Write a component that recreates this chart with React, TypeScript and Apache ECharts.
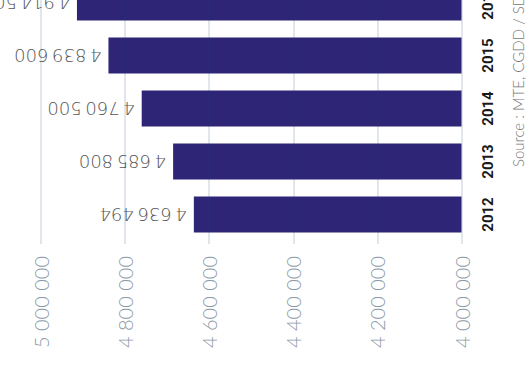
import React, { useEffect, useRef } from "react";
import * as echarts from "echarts";

const years = ["2012", "2013", "2014", "2015", "2016"];
const values = [4636494, 4685800, 4760500, 4839600, 4914500];
const axisMin = 4000000;
const axisMax = 5000000;
const axisStep = 200000;
const sourceText = "Source : MTE, CGDD / SDES";

const fmt = (v: number, sep: string) =>
  String(Math.round(v)).replace(/\B(?=(\d{3})+(?!\d))/g, sep);

export default function App() {
  const ref = useRef<HTMLDivElement>(null);
  useEffect(() => {
    document.body.style.margin = "0";
    const chart = echarts.init(ref.current!, undefined, { renderer: "svg" });
    chart.setOption({
      animation: false,
      backgroundColor: "#ffffff",
      grid: { left: 41, right: 64.5, top: 0, bottom: 129, containLabel: false },
      xAxis: {
        type: "value",
        inverse: true,
        min: axisMin,
        max: axisMax,
        interval: axisStep,
        position: "bottom",
        z: 3,
        axisLine: { show: false },
        axisTick: { show: true, length: 3, lineStyle: { color: "rgba(20,72,116,0.18)", width: 1.5 } },
        axisLabel: {
          rotate: 90,
          margin: 15,
          fontSize: 20,
          fontFamily: "Lato, 'Open Sans', sans-serif",
          fontWeight: 300,
          color: "#8a9aa7",
          formatter: (v: number) => fmt(v, " "),
        },
        splitLine: { show: true, lineStyle: { color: "rgba(20,72,116,0.18)", width: 1.5 } },
      },
      yAxis: {
        type: "category",
        data: years,
        position: "right",
        axisLine: { show: false },
        axisTick: { show: false },
        splitLine: { show: false },
        axisLabel: {
          rotate: 90,
          margin: 19,
          fontSize: 15,
          fontWeight: "bold",
          fontFamily: "'Liberation Sans Narrow', Roboto, sans-serif",
          color: "#1a1a1a",
        },
      },
      series: [
        {
          type: "bar",
          data: values,
          barWidth: 36,
          itemStyle: { color: "#2e2576" },
          label: {
            show: true,
            position: "left",
            distance: 7,
            rotate: 180,
            align: "left",
            verticalAlign: "middle",
            fontSize: 18,
            fontFamily: "'DejaVu Sans', sans-serif",
            fontWeight: 200,
            color: "#555555",
            formatter: (p: any) => fmt(p.value, "\u202f"),
          },
        },
      ],
      graphic: [
        {
          type: "text",
          x: 518,
          y: 191,
          rotation: Math.PI / 2,
          style: {
            text: sourceText,
            fontSize: 15,
            fontFamily: "Lato, 'Open Sans', sans-serif",
            fontWeight: 300,
            fill: "#777777",
            align: "left",
            verticalAlign: "middle",
          },
        },
      ],
    });
    return () => chart.dispose();
  }, []);
  return (
    <div
      ref={ref}
      style={{ position: "absolute", left: 0, top: -24, width: 526, height: 394 }}
    />
  );
}
